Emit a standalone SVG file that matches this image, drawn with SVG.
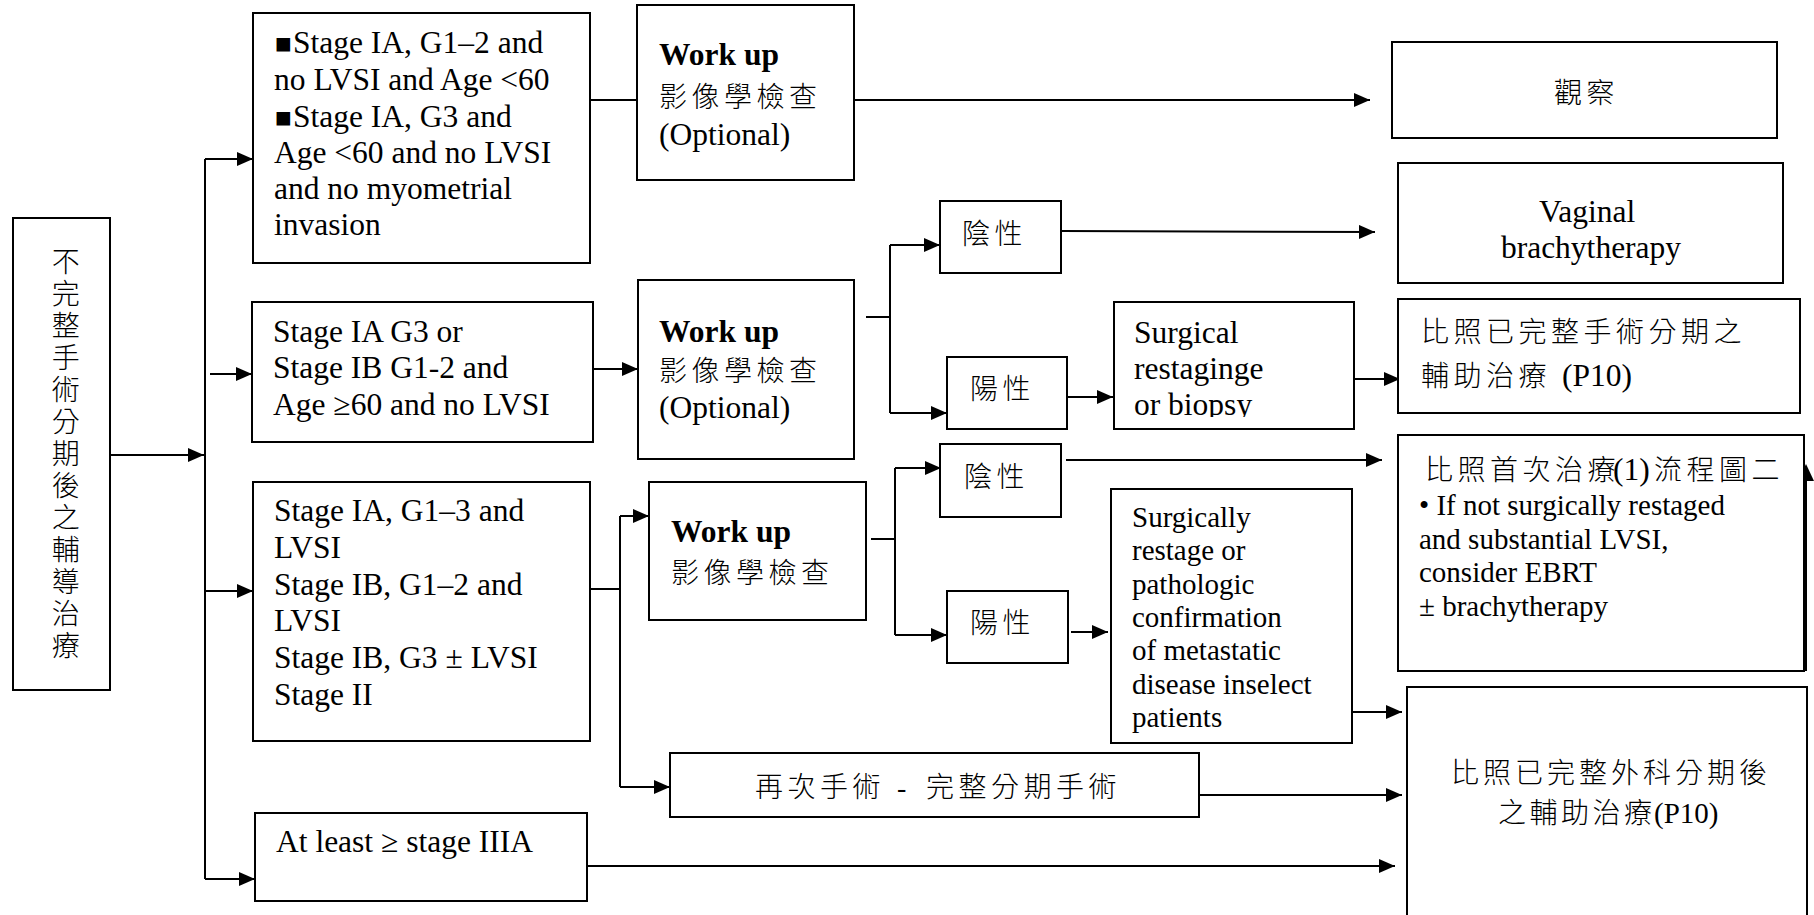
<svg xmlns="http://www.w3.org/2000/svg" width="1814" height="915" viewBox="0 0 1814 915">
<style>
  .box{fill:#fff;stroke:#000;stroke-width:2}
  .ln{fill:none;stroke:#000;stroke-width:2}
  .arr{marker-end:url(#ah)}
  .head{fill:#000;stroke:none}
  text{font-family:"Liberation Serif","Noto Sans CJK TC",serif;fill:#000}
  .t31{font-size:31.5px}
  .t29{font-size:29px}
  .b{font-weight:bold}
  .zh{font-size:28px;letter-spacing:4.5px;font-weight:300}
  .sq{font-size:28px}
</style>
<defs>
  <marker id="ah" markerUnits="userSpaceOnUse" markerWidth="16" markerHeight="14" refX="16" refY="7" orient="auto">
    <path d="M0,0 L16,7 L0,14 z" fill="#000"/>
  </marker>
  <clipPath id="clipSurg"><rect x="1114" y="300" width="240" height="117"/></clipPath>
</defs>
<rect x="0" y="0" width="1814" height="915" fill="#fff"/>

<!-- connectors -->
<g id="connectors">
  <path class="ln arr" d="M109,455 H204"/>
  <path class="ln" d="M205,159 V879"/>
  <path class="ln arr" d="M205,159 H253"/>
  <path class="ln arr" d="M210,374 H252"/>
  <path class="ln arr" d="M205,591 H253"/>
  <path class="ln arr" d="M205,879 H255"/>

  <path class="ln" d="M590,100 H637"/>
  <path class="ln arr" d="M854,100 H1370"/>

  <path class="ln arr" d="M593,369 H638"/>
  <path class="ln" d="M866,317 H890 M890,245 V413"/>
  <path class="ln arr" d="M890,245 H940"/>
  <path class="ln arr" d="M890,413 H947"/>
  <path class="ln arr" d="M1061,231 L1375,232"/>
  <path class="ln arr" d="M1068,397 H1113"/>
  <path class="ln arr" d="M1354,379 H1400"/>

  <path class="ln" d="M591,589 H620 M620,516 V787"/>
  <path class="ln arr" d="M620,516 H649"/>
  <path class="ln arr" d="M620,787 H670"/>
  <path class="ln" d="M871,539 H895 M895,468 V635"/>
  <path class="ln arr" d="M895,468 H941"/>
  <path class="ln arr" d="M895,635 H947"/>
  <path class="ln arr" d="M1066,460 H1382"/>
  <path class="ln arr" d="M1071,632 H1108"/>
  <path class="ln arr" d="M1352,712 H1402"/>
  <path class="ln arr" d="M1199,795 H1402"/>
  <path class="ln arr" d="M587,866 H1395"/>
  <!-- upward arrow along the right edge of the primary-flow box -->
  <path class="ln" d="M1806,671 V478"/>
  <path class="head" d="M1798,481 L1806,464 L1814,481 z"/>
</g>

<!-- start -->
<g id="start">
  <rect class="box" x="13" y="218" width="97" height="472"/>
  <text class="zh" text-anchor="middle" x="68 68 68 68 68 68 68 68 68 68 68 68 68" y="271.6 303.6 335.6 367.6 399.6 431.6 463.6 495.6 527.6 559.6 591.6 623.6 655.6">不完整手術分期後之輔導治療</text>
</g>

<!-- stage groups -->
<g id="stage-low">
  <rect class="box" x="253" y="13" width="337" height="250"/>
  <text class="t31">
    <tspan class="sq" x="275" y="53">■</tspan><tspan x="293" y="53">Stage IA, G1–2 and</tspan>
    <tspan x="274" y="90">no LVSI and Age &lt;60</tspan>
    <tspan class="sq" x="275" y="127">■</tspan><tspan x="293" y="127">Stage IA, G3 and</tspan>
    <tspan x="274" y="163">Age &lt;60 and no LVSI</tspan>
    <tspan x="274" y="199">and no myometrial</tspan>
    <tspan x="274" y="235">invasion</tspan>
  </text>
</g>

<g id="stage-mid">
  <rect class="box" x="252" y="302" width="341" height="140"/>
  <text class="t31">
    <tspan x="273" y="342">Stage IA G3 or</tspan>
    <tspan x="273" y="378">Stage IB G1-2 and</tspan>
    <tspan x="273" y="415">Age ≥60 and no LVSI</tspan>
  </text>
</g>

<g id="stage-high">
  <rect class="box" x="253" y="482" width="337" height="259"/>
  <text class="t31">
    <tspan x="274" y="521">Stage IA, G1–3 and</tspan>
    <tspan x="274" y="557.8">LVSI</tspan>
    <tspan x="274" y="594.6">Stage IB, G1–2 and</tspan>
    <tspan x="274" y="631.4">LVSI</tspan>
    <tspan x="274" y="668.2">Stage IB, G3 ± LVSI</tspan>
    <tspan x="274" y="705">Stage II</tspan>
  </text>
</g>

<g id="stage-advanced">
  <rect class="box" x="255" y="813" width="332" height="88"/>
  <text class="t31" x="276" y="852">At least ≥ stage IIIA</text>
</g>

<!-- work-up -->
<g id="workup-1">
  <rect class="box" x="637" y="5" width="217" height="175"/>
  <text class="t31 b" x="659" y="65">Work up</text>
  <text class="zh" x="659" y="107">影像學檢查</text>
  <text class="t31" x="659" y="145">(Optional)</text>
</g>

<g id="workup-2">
  <rect class="box" x="638" y="280" width="216" height="179"/>
  <text class="t31 b" x="659" y="342">Work up</text>
  <text class="zh" x="659" y="381">影像學檢查</text>
  <text class="t31" x="659" y="418">(Optional)</text>
</g>

<g id="workup-3">
  <rect class="box" x="649" y="482" width="217" height="138"/>
  <text class="t31 b" x="671" y="542">Work up</text>
  <text class="zh" x="671" y="583">影像學檢查</text>
</g>

<!-- results -->
<g id="neg-1">
  <rect class="box" x="940" y="201" width="121" height="72"/>
  <text class="zh" x="962" y="244">陰性</text>
</g>
<g id="pos-1">
  <rect class="box" x="947" y="357" width="120" height="72"/>
  <text class="zh" x="970" y="399">陽性</text>
</g>
<g id="neg-2">
  <rect class="box" x="940" y="444" width="121" height="73"/>
  <text class="zh" x="964" y="487">陰性</text>
</g>
<g id="pos-2">
  <rect class="box" x="947" y="591" width="121" height="72"/>
  <text class="zh" x="970" y="633">陽性</text>
</g>

<g id="restaging">
  <rect class="box" x="1114" y="302" width="240" height="127"/>
  <text class="t31">
    <tspan x="1134" y="343">Surgical</tspan>
    <tspan x="1134" y="379">restaginge</tspan>
  </text>
  <text class="t31" x="1134" y="415" clip-path="url(#clipSurg)">or biopsy</text>
</g>

<g id="restage-path">
  <rect class="box" x="1111" y="489" width="241" height="254"/>
  <text class="t29">
    <tspan x="1132" y="527">Surgically</tspan>
    <tspan x="1132" y="560.3">restage or</tspan>
    <tspan x="1132" y="593.7">pathologic</tspan>
    <tspan x="1132" y="627">confirmation</tspan>
    <tspan x="1132" y="660.3">of metastatic</tspan>
    <tspan x="1132" y="693.7">disease inselect</tspan>
    <tspan x="1132" y="727">patients</tspan>
  </text>
</g>

<g id="resurgery">
  <rect class="box" x="670" y="753" width="529" height="64"/>
  <text class="zh" y="797"><tspan x="755">再次手術</tspan><tspan x="897">-</tspan><tspan x="926">完整分期手術</tspan></text>
</g>

<!-- outcomes -->
<g id="observe">
  <rect class="box" x="1392" y="42" width="385" height="96"/>
  <text class="zh" x="1554" y="103">觀察</text>
</g>

<g id="vbt">
  <rect class="box" x="1398" y="163" width="385" height="120"/>
  <text class="t31" text-anchor="middle">
    <tspan x="1591" y="222">Vaginal</tspan>
    <tspan x="1591" y="258">brachytherapy</tspan>
  </text>
</g>

<g id="staged-adjuvant">
  <rect class="box" x="1398" y="299" width="402" height="114"/>
  <text class="zh" x="1421" y="342">比照已完整手術分期之</text>
  <text y="386"><tspan class="zh" x="1421">輔助治療</tspan><tspan class="t31" x="1562">(P10)</tspan></text>
</g>

<g id="primary-flow">
  <rect class="box" x="1398" y="435" width="406" height="236"/>
  <text y="480"><tspan class="zh" x="1425">比照首次治療</tspan><tspan class="t31" x="1613">(1)</tspan><tspan class="zh" x="1654">流程圖二</tspan></text>
  <text class="t29">
    <tspan x="1419" y="515">• If not surgically restaged</tspan>
    <tspan x="1419" y="548.5">and substantial LVSI,</tspan>
    <tspan x="1419" y="582">consider EBRT</tspan>
    <tspan x="1419" y="615.5">± brachytherapy</tspan>
  </text>
</g>

<g id="surgical-adjuvant">
  <rect class="box" x="1407" y="687" width="400" height="250"/>
  <text class="zh" x="1451" y="783" style="letter-spacing:4px">比照已完整外科分期後</text>
  <text y="823"><tspan class="zh" x="1498" style="letter-spacing:3.5px">之輔助治療</tspan><tspan class="t29" x="1654">(P10)</tspan></text>
</g>
</svg>
